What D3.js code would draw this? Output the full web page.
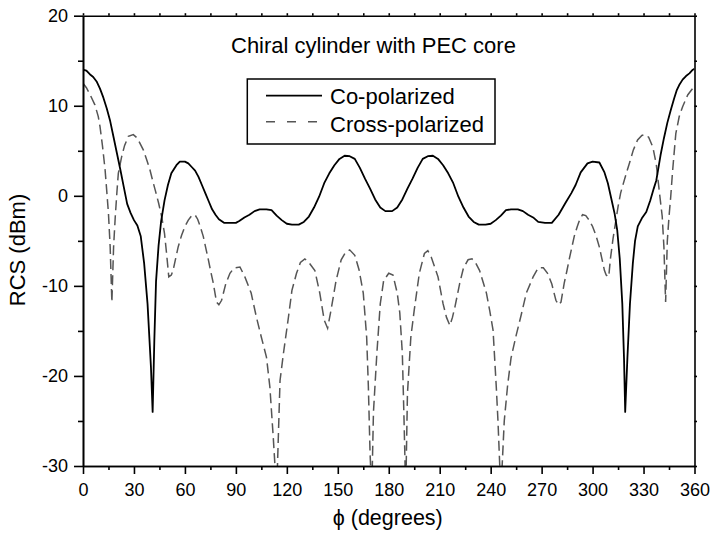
<!DOCTYPE html>
<html>
<head>
<meta charset="utf-8">
<script src="https://cdn.jsdelivr.net/npm/d3@7"></script>
<style>
  body { margin: 0; background: #fff; }
  svg { display: block; }
</style>
</head>
<body>
<svg></svg>
<script>
// data: [phi (deg), RCS (dBm)]
const coPol = [
  [0,14.0],[2,13.9],[4,13.5],[6,13.2],[8,12.7],[10,11.9],[12,10.9],[14,9.7],[16,8.3],[18,6.5],
  [20,4.7],[22,2.9],[24,1.0],[26,-0.9],[28,-1.9],[30,-2.7],[32,-3.3],[34,-4.5],[36,-7.5],[38,-12],
  [40,-19],[41,-24],[42,-16],[43,-9.5],[44.5,-5.5],[46,-2.8],[48,-0.5],[50,1.2],[52,2.5],[55,3.4],
  [57,3.8],[60,3.8],[62,3.6],[64,3.2],[66,2.8],[68,2.1],[70,1.2],[72,0.3],[74,-0.6],[76,-1.5],
  [78,-2.1],[80,-2.6],[83,-3.0],[86,-3.0],[90,-3.0],[92,-2.8],[95,-2.4],[98,-2.1],[101,-1.7],[104,-1.5],
  [108,-1.5],[111,-1.6],[114,-2.2],[117,-2.7],[120,-3.1],[123,-3.2],[127,-3.2],[130,-2.9],[133,-2.3],[136,-1.3],
  [139,-0.1],[142,1.4],[145,2.5],[148,3.4],[151,4.1],[154,4.45],[157,4.4],[160,4.1],[163,3.1],[166,1.9],
  [169,0.8],[172,-0.4],[175,-1.3],[178,-1.7],[180,-1.7],[182,-1.7],[185,-1.3],[188,-0.4],[191,0.8],[194,1.9],
  [197,3.1],[200,4.1],[203,4.4],[206,4.45],[209,4.1],[212,3.4],[215,2.5],[218,1.4],[221,-0.1],[224,-1.3],
  [227,-2.3],[230,-2.9],[233,-3.2],[237,-3.2],[240,-3.1],[243,-2.7],[246,-2.2],[249,-1.6],[252,-1.5],[256,-1.5],
  [259,-1.7],[262,-2.1],[265,-2.4],[268,-2.9],[272,-3.0],[276,-3.0],[280,-2.1],[284,-0.8],[287.5,0.3],[290,1.2],
  [293,2.6],[297,3.6],[300,3.8],[304,3.7],[307,2.6],[309,1.4],[311,-0.3],[313,-2.0],[314.5,-3.8],[316,-7],
  [317.5,-12],[318.5,-18],[319.2,-24],[320.5,-18],[322,-12],[323.7,-7.5],[325,-5],[326.6,-3.4],[329,-2.5],[331.6,-1.8],
  [334,-0.5],[336,0.8],[337.5,1.7],[340,4.5],[342,6.4],[344,8.1],[346,9.5],[348,10.8],[349.5,11.7],[351,12.3],
  [353,12.9],[355,13.3],[357,13.6],[359,14.0],[360,14.1]
];
const crossPol = [
  [0,12.5],[2,12.0],[4,11.3],[7,10.1],[9,8.8],[10,7.7],[11.5,5.5],[13,2.9],[14,0.5],[15,-2.0],
  [16,-5.7],[17,-11.8],[18,-5.7],[19,-2.3],[20,0.5],[20.8,2.5],[22.7,4.3],[24.5,5.6],[26.7,6.6],[29.6,6.8],
  [32,6.4],[35.5,5.1],[37.5,4.0],[39.4,2.9],[41,1.7],[43,0.3],[44.5,-0.8],[46.3,-2.3],[48,-4.2],[49.2,-6.4],
  [50.5,-9.0],[52,-8.8],[53,-8.3],[54.5,-7.0],[56,-5.7],[58,-4.4],[60,-3.4],[62,-2.7],[64,-2.2],[65.9,-2.1],
  [67.5,-2.6],[69,-3.4],[70.8,-4.5],[72.3,-5.8],[73.7,-7.0],[75.2,-8.4],[76.7,-9.7],[78.6,-11.8],[80,-12.1],[81.6,-11.6],
  [84,-9.8],[86.5,-8.6],[89,-8.0],[92.4,-7.9],[95.3,-9.0],[99,-10.8],[102,-13.4],[105,-15.7],[108,-17.9],[110,-21.2],
  [112,-26.8],[114,-33],[116,-20.5],[118,-17.5],[121,-13.4],[123,-10.5],[125.7,-8.6],[128,-7.4],[130.6,-7.0],[133,-7.4],
  [136.5,-8.3],[139.4,-10.8],[142,-13.8],[144,-14.7],[146,-12.7],[149,-9.4],[152,-7.1],[154.5,-6.3],[157,-6.0],[160,-6.6],
  [162.5,-8.2],[165,-10.8],[167,-15.7],[168,-21.2],[169,-28.6],[170,-33],[171,-24],[173,-17.5],[175,-12],[177,-9.4],
  [180,-8.6],[182.5,-8.8],[185,-10.8],[186.5,-13],[188,-17.5],[189,-24.9],[190,-33],[191,-22],[193,-15.7],[195,-12.7],
  [198,-8.6],[201,-6.4],[203,-6.1],[205,-6.8],[209,-9.0],[212,-12],[214,-13.5],[216,-14.4],[217.5,-13.5],[219,-12.3],
  [221.8,-9.7],[224,-8.0],[226.7,-7.1],[229,-7.0],[231,-7.4],[233.5,-8.3],[237.5,-10.8],[239.5,-12.8],[241.4,-14.9],[243.3,-21.2],
  [244.3,-25],[246,-33],[248,-25],[250,-21],[252,-18],[255,-15.5],[258,-13.2],[261,-10.8],[265,-9.0],[268,-8.0],
  [271,-8.0],[273.5,-8.6],[276,-9.8],[278.4,-11.6],[280,-12.1],[281.4,-11.8],[283.3,-9.7],[284.8,-8.4],[286.3,-7.0],[287.7,-5.8],
  [289.2,-4.5],[291,-3.4],[292.5,-2.6],[294.1,-2.1],[296,-2.2],[298,-2.7],[300,-3.4],[302,-4.4],[304,-5.7],[305.5,-7.0],
  [307,-8.3],[308,-8.8],[309.5,-9.0],[310.5,-7.0],[312,-4.8],[313.5,-3.0],[315,-1.2],[316.5,0.3],[318,1.3],[320,2.6],
  [322,3.8],[324,5.1],[326.5,6.2],[329,6.7],[331,6.8],[333,6.5],[335.5,5.4],[337.5,3.5],[339.4,0.3],[341,-2.3],
  [342,-5.7],[343,-11.8],[344,-5.0],[345,-2.3],[346,-0.1],[347,2.5],[347.8,4.3],[349,6.9],[351,8.8],[353,9.9],
  [356,11.2],[358.8,11.9],[360,12.3]
];
const xTicks = [0,30,60,90,120,150,180,210,240,270,300,330,360];
const yTicks = [-30,-20,-10,0,10,20];
const seriesNames = ["Co-polarized", "Cross-polarized"];
const title = "Chiral cylinder with PEC core";

//setting
const W = 711, H = 540;
const margin = {top: 15.7, right: 16.5, bottom: 74, left: 83};
const font = "Arial, 'Liberation Sans', sans-serif";
const svg = d3.select("svg").attr("width", W).attr("height", H).style("background", "#fff");

const x = d3.scaleLinear().domain([0, 360]).range([margin.left, W - margin.right]);
const y = d3.scaleLinear().domain([-30, 20]).range([H - margin.bottom, margin.top]);

svg.append("clipPath").attr("id", "plot")
  .append("rect")
  .attr("x", x(0)).attr("y", y(20))
  .attr("width", x(360) - x(0)).attr("height", y(-30) - y(20));

const line = d3.line().x(d => x(d[0])).y(d => y(d[1]));

// curves
svg.append("path")
  .datum(crossPol)
  .attr("clip-path", "url(#plot)")
  .attr("fill", "none")
  .attr("stroke", "#555")
  .attr("stroke-width", 1.5)
  .attr("stroke-dasharray", "10,5")
  .attr("d", line);

svg.append("path")
  .datum(coPol)
  .attr("clip-path", "url(#plot)")
  .attr("fill", "none")
  .attr("stroke", "#000")
  .attr("stroke-width", 1.8)
  .attr("stroke-linejoin", "round")
  .attr("d", line);

// axes
function styleAxis(g) {
  g.attr("font-family", font).attr("font-size", 18);
  g.select(".domain").attr("stroke-width", 1.6);
  g.selectAll(".tick line").attr("stroke-width", 1.6);
  g.selectAll(".tick text").attr("fill", "#000");
}
const minorX = d3.range(15, 360, 30);
const minorY = d3.range(-25, 20, 10);
const plain = d => String(d);

svg.append("g")
  .attr("transform", `translate(0,${y(-30)})`)
  .call(d3.axisBottom(x).tickValues(minorX).tickSize(4).tickFormat("").tickSizeOuter(0))
  .call(styleAxis);
svg.append("g")
  .attr("transform", `translate(0,${y(-30)})`)
  .call(d3.axisBottom(x).tickValues(xTicks).tickSize(8).tickPadding(9).tickFormat(plain).tickSizeOuter(0))
  .call(styleAxis);

svg.append("g")
  .attr("transform", `translate(${x(0)},0)`)
  .call(d3.axisLeft(y).tickValues(minorY).tickSize(5).tickFormat("").tickSizeOuter(0))
  .call(styleAxis);
svg.append("g")
  .attr("transform", `translate(${x(0)},0)`)
  .call(d3.axisLeft(y).tickValues(yTicks).tickSize(9).tickPadding(6).tickFormat(plain).tickSizeOuter(0))
  .call(styleAxis);

svg.append("g")
  .attr("transform", `translate(0,${y(20)})`)
  .call(d3.axisTop(x).tickValues(d3.range(0, 361, 15)).tickSize(2.5).tickFormat("").tickSizeOuter(0))
  .call(styleAxis);
svg.append("g")
  .attr("transform", `translate(${x(360)},0)`)
  .call(d3.axisRight(y).tickValues(d3.range(-30, 21, 5)).tickSize(2.5).tickFormat("").tickSizeOuter(0))
  .call(styleAxis);

// labels
svg.append("text")
  .attr("x", (x(0) + x(360)) / 2 - 1)
  .attr("y", 525)
  .attr("text-anchor", "middle")
  .attr("font-family", font).attr("font-size", 21.5)
  .text("ϕ (degrees)");

svg.append("text")
  .attr("transform", "translate(24.5,250) rotate(-90)")
  .attr("text-anchor", "middle")
  .attr("font-family", font).attr("font-size", 22)
  .text("RCS (dBm)");

svg.append("text")
  .attr("x", 231).attr("y", 53.3)
  .attr("font-family", font).attr("font-size", 22)
  .text(title);

// legend
const legend = svg.append("g");
legend.append("rect")
  .attr("x", 247.3).attr("y", 79)
  .attr("width", 247.7).attr("height", 65)
  .attr("fill", "#fff").attr("stroke", "#000").attr("stroke-width", 1.5);

legend.selectAll("line")
  .data(seriesNames)
  .join("line")
  .attr("x1", 266).attr("x2", 322)
  .attr("y1", (d, i) => 95.7 + i * 26)
  .attr("y2", (d, i) => 95.7 + i * 26)
  .attr("stroke", (d, i) => i === 0 ? "#000" : "#555")
  .attr("stroke-width", (d, i) => i === 0 ? 1.8 : 1.5)
  .attr("stroke-dasharray", (d, i) => i === 0 ? null : "9,12");

legend.selectAll("text")
  .data(seriesNames)
  .join("text")
  .attr("x", 330)
  .attr("y", (d, i) => 104 + i * 27.7)
  .attr("font-family", font).attr("font-size", 22)
  .text(d => d);
</script>
</body>
</html>
